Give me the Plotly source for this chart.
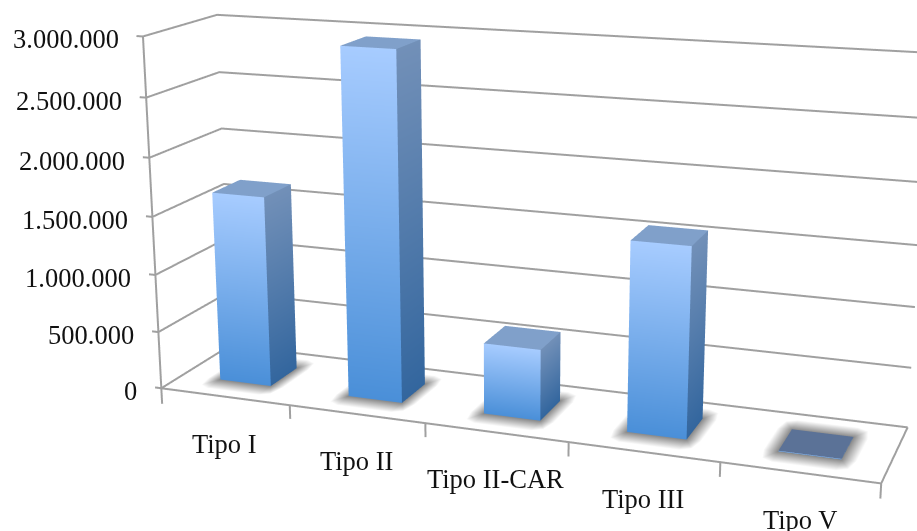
import plotly.graph_objects as go

categorias = ["Tipo I", "Tipo II", "Tipo II-CAR", "Tipo III", "Tipo V"]
valores = [1650000, 2950000, 600000, 1570000, 5000]
marcas_y = [0, 500000, 1000000, 1500000, 2000000, 2500000, 3000000]
etiquetas_y = ["0", "500.000", "1.000.000", "1.500.000", "2.000.000", "2.500.000", "3.000.000"]

# Bars fill 40% of each category cell in width and depth (gap of 150%).
ANCHO = 0.4
GRIS = "#a0a0a0"
FUENTE = dict(family="Liberation Serif", size=26.5, color="#111111")
PLANO = dict(ambient=1, diffuse=0, specular=0, fresnel=0, roughness=1)

# Box proportions and camera, in units where the value axis is 1 long.
CAJA_X, CAJA_Y, CAJA_Z = 2.01796, 0.41522, 1.0
OJO = (1.66186, -4.67627, 1.30949)
MIRA = (-0.01121, -0.4399, 0.01926)
ARRIBA = (0.0076, 0, 1)

# Axis ranges leave a little room for the tick marks outside the floor and wall.
RANGO_X = [-0.1, 5.01]
RANGO_Y = [-0.01, 1.01]
RANGO_Z = [-200000, 3050000]

# The camera is given relative to the box 0..5 x 0..1 x 0..3M, so shift it to
# the centre of the extended box.
dx = ((RANGO_X[0] + RANGO_X[1]) / 2 - 2.5) / 5 * CAJA_X
dy = ((RANGO_Y[0] + RANGO_Y[1]) / 2 - 0.5) * CAJA_Y
dz = ((RANGO_Z[0] + RANGO_Z[1]) / 2 - 1500000) / 3000000 * CAJA_Z


def desplazado(p):
    return dict(x=p[0] - dx, y=p[1] - dy, z=p[2] - dz)


fig = go.Figure()


# Soft floor shadow: a ring fading from grey next to the bar to the white floor.
def sombra(i):
    x0, x1 = i + 0.5 - ANCHO / 2, i + 0.5 + ANCHO / 2
    y0, y1 = 0.5 - ANCHO / 2, 0.5 + ANCHO / 2
    mx, my = 0.095, 0.19
    d = 0.75
    xs = [x0, x1, x1, x0]
    ys = [y0, y0, y1, y1]
    esquinas = [(x0, y0, -1, -1), (x1, y0, 1, -1), (x1, y1, 1, 1), (x0, y1, -1, 1)]
    for n, (xc, yc, sx, sy) in enumerate(esquinas):
        a = (xc + sx * mx, yc)
        b = (xc + sx * mx * d, yc + sy * my * d)
        c = (xc, yc + sy * my)
        for q in ((a, b, c) if n % 2 == 0 else (c, b, a)):
            xs.append(q[0])
            ys.append(q[1])
    ii, jj, kk = [], [], []
    for n in range(4):
        s = 4 + 3 * n
        t = 4 + 3 * ((n + 1) % 4)
        ii += [n, n, n, n]
        jj += [s, s + 1, s + 2, (n + 1) % 4]
        kk += [s + 1, s + 2, t, t]
    cols = ["#888888"] * 4 + ["#ffffff"] * 12
    fig.add_trace(go.Mesh3d(x=xs, y=ys, z=[0] * 16, i=ii, j=jj, k=kk, vertexcolor=cols,
                            lighting=PLANO, hoverinfo="skip", showscale=False))


def barra(i, v):
    x0, x1 = i + 0.5 - ANCHO / 2, i + 0.5 + ANCHO / 2
    y0, y1 = 0.5 - ANCHO / 2, 0.5 + ANCHO / 2
    xs = [x0, x1, x1, x0, x1, x1, x1, x1, x0, x1, x1, x0]
    ys = [y0, y0, y0, y0, y0, y1, y1, y0, y0, y0, y1, y1]
    zs = [0, 0, v, v, 0, 0, v, v, v, v, v, v]
    tapa = "#5b7297" if v < 50000 else "#80a0ca"
    cols = ["#4a8fd8", "#4a8fd8", "#a7ccff", "#a7ccff",
            "#33669e", "#33669e", "#7290b8", "#7290b8",
            tapa, tapa, tapa, tapa]
    fig.add_trace(go.Mesh3d(x=xs, y=ys, z=zs,
                            i=[0, 0, 4, 4, 8, 8], j=[1, 2, 5, 6, 9, 10], k=[2, 3, 6, 7, 10, 11],
                            vertexcolor=cols, lighting=PLANO, hoverinfo="skip", showscale=False))


for i, v in enumerate(valores):
    sombra(i)
    barra(i, v)


def linea(xs, ys, zs):
    fig.add_trace(go.Scatter3d(x=xs, y=ys, z=zs, mode="lines",
                               line=dict(color=GRIS, width=4), hoverinfo="skip", showlegend=False))


# Grid lines run along the side wall and the back wall.
for m in marcas_y:
    linea([0, 0, 5], [0, 1, 1], [m, m, m])
    linea([-0.05, 0], [0, 0], [m, m])
# Value axis, floor outline and category ticks.
linea([0, 0], [0, 0], [-140000, 3000000])
linea([0, 5, 5], [0, 0, 1], [0, 0, 0])
for t in range(1, len(categorias) + 1):
    linea([t, t], [0, 0], [-120000, 0])

notas = []
for m, txt in zip(marcas_y, etiquetas_y):
    notas.append(dict(x=0, y=0, z=m, text=txt, showarrow=False, font=FUENTE,
                      xanchor="right", yanchor="middle", xshift=-22, yshift=-3))
for i, txt in enumerate(categorias):
    notas.append(dict(x=i + 0.5, y=0, z=0, text=txt, showarrow=False, font=FUENTE,
                      xanchor="center", yanchor="middle", yshift=-47))

oculto = dict(visible=False, showspikes=False)
fig.update_layout(
    width=2751, height=1593, margin=dict(l=0, r=0, t=0, b=0), paper_bgcolor="white", showlegend=False,
    scene=dict(
        domain=dict(x=[0, 1], y=[0, 1]), aspectmode="manual", dragmode="orbit",
        aspectratio=dict(x=CAJA_X * (RANGO_X[1] - RANGO_X[0]) / 5,
                         y=CAJA_Y * (RANGO_Y[1] - RANGO_Y[0]),
                         z=CAJA_Z * (RANGO_Z[1] - RANGO_Z[0]) / 3000000),
        camera=dict(eye=desplazado(OJO), center=desplazado(MIRA),
                    up=dict(x=ARRIBA[0], y=ARRIBA[1], z=ARRIBA[2]), projection=dict(type="perspective")),
        xaxis=dict(range=RANGO_X, **oculto),
        yaxis=dict(range=RANGO_Y, **oculto),
        zaxis=dict(range=RANGO_Z, **oculto),
        annotations=notas,
    ),
)

# The perspective lens is tied to the canvas height, so the canvas is three
# windows wide and high and the middle window is the part on show.
ajuste = """
var gd = document.getElementById('{plot_id}');
gd.style.position = 'fixed';
gd.style.left = '-917px';
gd.style.top = '-531px';
document.documentElement.style.overflow = 'hidden';
document.body.style.overflow = 'hidden';
"""
fig.write_html("out.html", config=dict(displayModeBar=False), post_script=ajuste)
